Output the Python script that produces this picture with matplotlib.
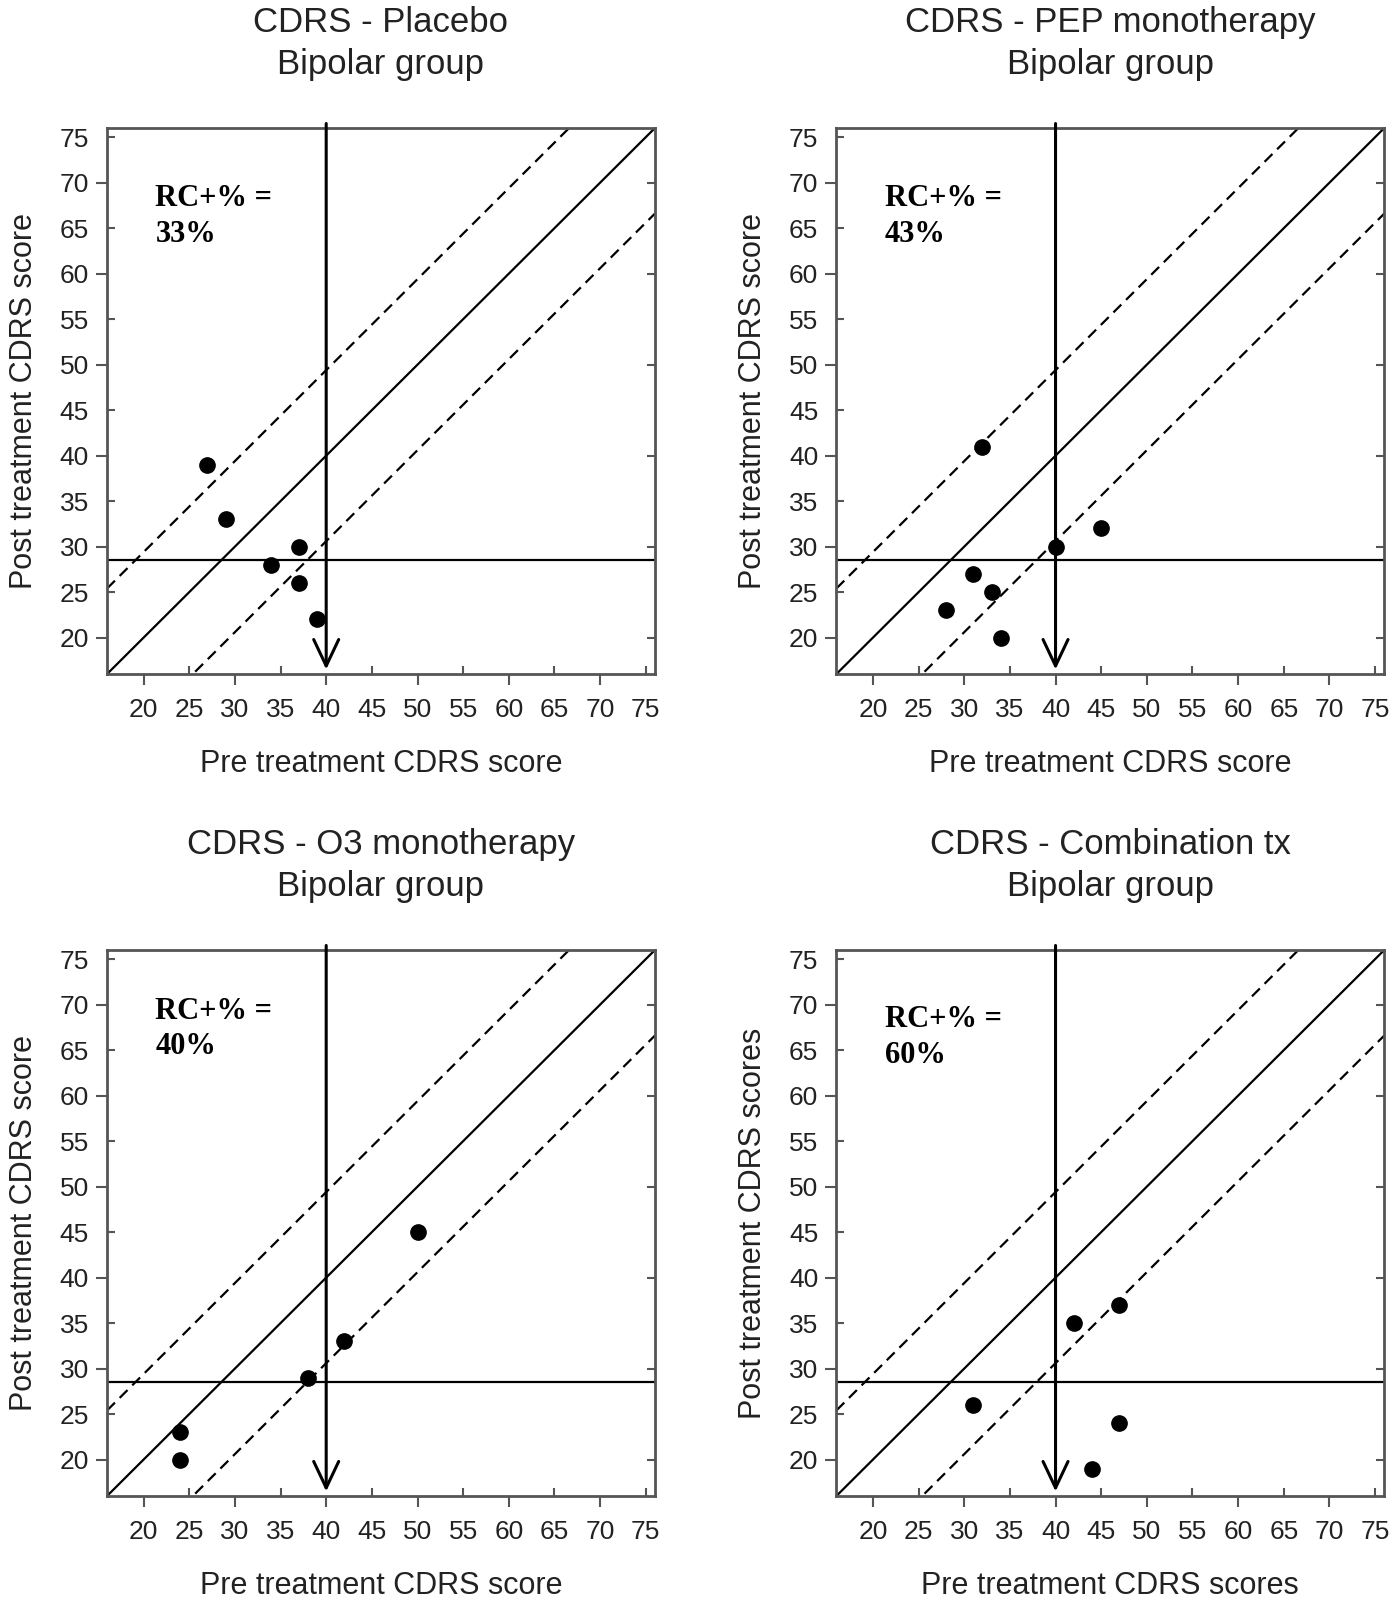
import numpy as np
import matplotlib.pyplot as plt
from matplotlib.ticker import FixedLocator, NullFormatter

# data
titles = ["CDRS - Placebo", "CDRS - PEP monotherapy",
          "CDRS - O3 monotherapy", "CDRS - Combination tx"]
subtitle = "Bipolar group"
rc_labels = ["33%", "43%", "40%", "60%"]
xlabels = ["Pre treatment CDRS score", "Pre treatment CDRS score",
           "Pre treatment CDRS score", "Pre treatment CDRS scores"]
ylabels = ["Post treatment CDRS score", "Post treatment CDRS score",
           "Post treatment CDRS score", "Post treatment CDRS scores"]

pre_placebo = [27, 29, 34, 37, 37, 39]
post_placebo = [39, 33, 28, 30, 26, 22]
pre_pep = [32, 40, 45, 31, 33, 28, 34]
post_pep = [41, 30, 32, 27, 25, 23, 20]
pre_o3 = [24, 24, 38, 42, 50]
post_o3 = [23, 20, 29, 33, 45]
pre_combo = [31, 42, 47, 47, 44]
post_combo = [26, 35, 37, 24, 19]

pre = [pre_placebo, pre_pep, pre_o3, pre_combo]
post = [post_placebo, post_pep, post_o3, post_combo]

cutoff_pre = 40      # vertical arrow
cutoff_post = 28.5   # horizontal line
rc_band = 9.4        # reliable change band around identity
text_y = [66.3, 66.3, 67.3, 66.4]

major = np.arange(20, 80, 10)   # ticks pointing out
minor = np.arange(25, 80, 10)   # ticks pointing in
lim = (16, 76)

fig = plt.figure(figsize=(13.94, 16.01), dpi=100)
positions = [
    [0.0768, 0.579, 0.393, 0.341],
    [0.600, 0.579, 0.393, 0.341],
    [0.0768, 0.0656, 0.393, 0.341],
    [0.600, 0.0656, 0.393, 0.341],
]

sans = "Liberation Sans"
serif = "Liberation Serif"
txt = "#222222"
spine_c = "#555555"

for i in range(4):
    ax = fig.add_axes(positions[i])
    ax.set_xlim(lim)
    ax.set_ylim(lim)

    xs = np.array(lim)
    ax.plot(xs, xs, color="black", lw=1.6)
    ax.plot(xs, xs + rc_band, color="black", lw=1.6, ls=(0, (5, 3)))
    ax.plot(xs, xs - rc_band, color="black", lw=1.6, ls=(0, (5, 3)))
    ax.axhline(cutoff_post, color="black", lw=1.6)

    ax.annotate("", xy=(cutoff_pre, 16.5), xytext=(cutoff_pre, 76.5),
                xycoords="data", annotation_clip=False,
                arrowprops=dict(arrowstyle="->, head_length=0.95, head_width=0.45",
                                mutation_scale=20, color="black", lw=2.2,
                                shrinkA=0, shrinkB=0))

    ax.plot(pre[i], post[i], "o", color="black", ms=11, mec="black")

    ax.text(21.3, text_y[i], "RC+% =\n" + rc_labels[i], fontsize=22,
            fontweight="bold", family=serif, va="center", ha="left",
            linespacing=1.3)

    for axis in (ax.xaxis, ax.yaxis):
        axis.set_major_locator(FixedLocator(major))
        axis.set_minor_locator(FixedLocator(minor))
        axis.set_minor_formatter(axis.get_major_formatter())
    ax.tick_params(axis="both", which="major", direction="out", length=8,
                   width=1.5, color=spine_c, labelsize=19, labelcolor=txt)
    ax.tick_params(axis="both", which="minor", direction="in", length=6,
                   width=1.5, color=spine_c, labelsize=19, labelcolor=txt)
    ax.tick_params(axis="x", which="major", pad=9)
    ax.tick_params(axis="x", which="minor", pad=17)
    ax.tick_params(axis="y", which="major", pad=5)
    ax.tick_params(axis="y", which="minor", pad=13)
    for lab in (ax.get_xticklabels(which="both") + ax.get_yticklabels(which="both")):
        lab.set_family(sans)

    right = ax.secondary_yaxis("right")
    right.set_yticks(major)
    right.yaxis.set_major_formatter(NullFormatter())
    right.tick_params(direction="in", length=6, width=1.5, color=spine_c)
    right.spines["right"].set_visible(False)

    for s in ax.spines.values():
        s.set_color(spine_c)
        s.set_linewidth(2)

    ax.set_xlabel(xlabels[i], fontsize=22, family=sans, color=txt, labelpad=20)
    ax.set_ylabel(ylabels[i], fontsize=22, family=sans, color=txt, labelpad=15)
    ax.set_title(titles[i] + "\n" + subtitle, fontsize=25, family=sans,
                 color=txt, pad=39, linespacing=1.35)

fig.savefig("out.png", dpi=100)
